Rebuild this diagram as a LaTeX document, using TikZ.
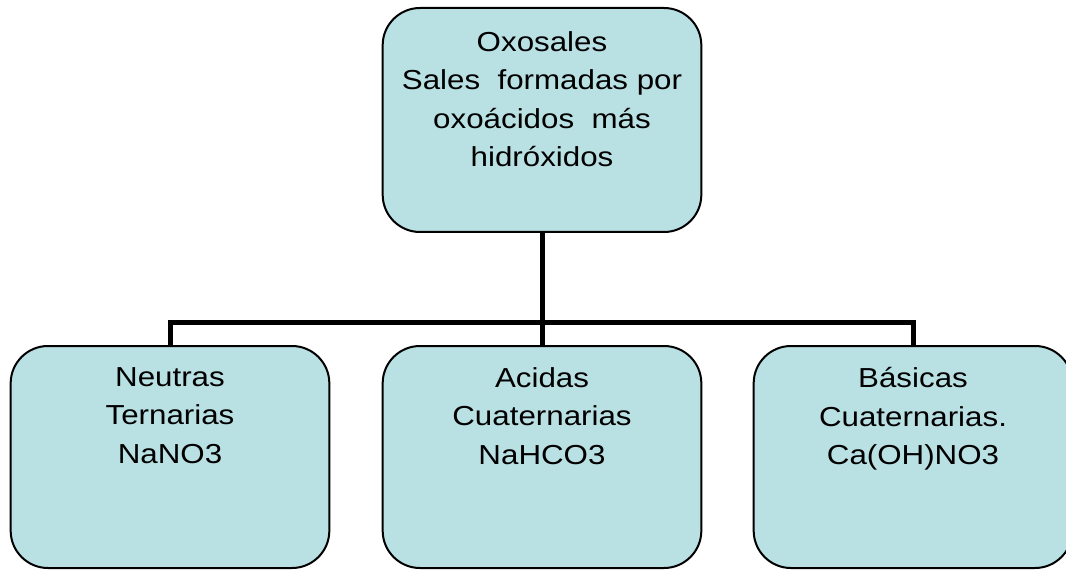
\documentclass[tikz,border=0pt]{standalone}
\usepackage{fontspec}
\setmainfont{Liberation Sans}
\definecolor{boxfill}{HTML}{B9E0E3}
\begin{document}
\begin{tikzpicture}[x=0.75pt,y=-0.75pt,
  salebox/.style={draw=black,line width=1.5pt,fill=boxfill,rounded corners=28pt,
    inner sep=0pt,minimum width=239pt,minimum height=#1},
  salebox/.default=166.5pt,
  lbl/.style={anchor=north,inner sep=0pt,align=center,xscale=1.14,
    font=\fontsize{20.6}{28.9}\selectfont},
  conn/.style={draw=black,line width=3.75pt}]
\clip (0,0) rectangle (1066,570);
\fill[white] (0,0) rectangle (1066,570);
\node[salebox=168pt,label={[lbl,yshift=-18pt]north:{Oxosales\\Sales\ \ formadas por\\oxoácidos\ \ más\\hidróxidos}}] (top) at (542,120) {};
\node[salebox,label={[lbl,yshift=-16.5pt]north:{Neutras\\Ternarias\\NaNO3}}] (left) at (170,457) {};
\node[salebox,label={[lbl,yshift=-16.5pt]north:{Acidas\\Cuaternarias\\NaHCO3}}] (mid) at (542,457) {};
\node[salebox,label={[lbl,yshift=-16.5pt]north:{Básicas\\Cuaternarias.\\Ca(OH)NO3}}] (right) at (913,457) {};
\coordinate (bus) at (542,322);
\draw[conn] (top.south) -- (mid.north);
\draw[conn] (left.north) |- (bus) -| (right.north);
\end{tikzpicture}
\end{document}
